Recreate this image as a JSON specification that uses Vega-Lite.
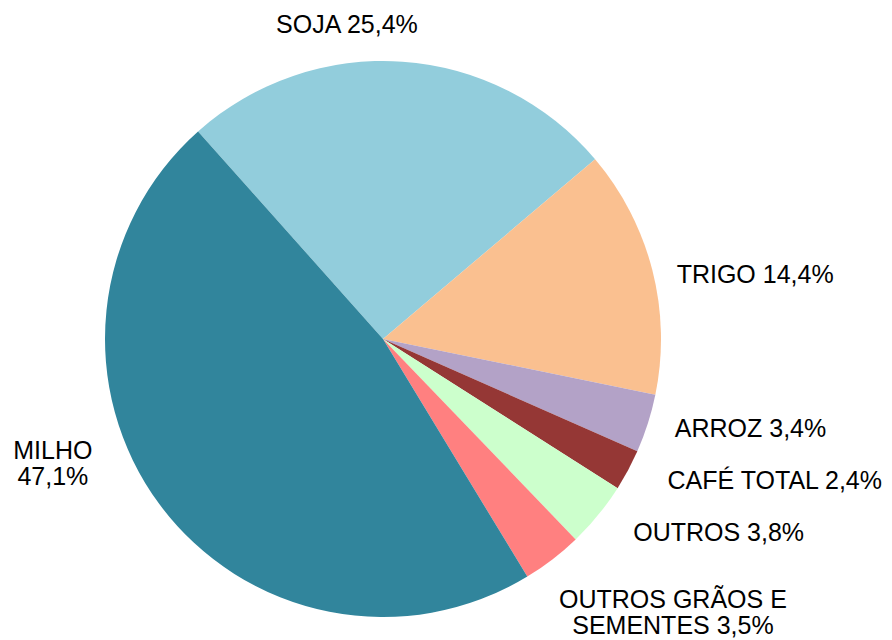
{
  "$schema": "https://vega.github.io/schema/vega-lite/v6.json",
  "width": 700,
  "height": 600,
  "autosize": "none",
  "padding": {"left": 33, "top": 39, "right": 159, "bottom": 1},
  "background": "white",
  "data": {
    "values": [
      {"ordem": 1, "cat": "SOJA", "pct": 25.4, "label": "SOJA 25,4%"},
      {"ordem": 2, "cat": "TRIGO", "pct": 14.4, "label": "TRIGO 14,4%"},
      {"ordem": 3, "cat": "ARROZ", "pct": 3.4, "label": "ARROZ 3,4%"},
      {"ordem": 4, "cat": "CAFÉ TOTAL", "pct": 2.4, "label": "CAFÉ TOTAL 2,4%"},
      {"ordem": 5, "cat": "OUTROS", "pct": 3.8, "label": "OUTROS 3,8%"},
      {"ordem": 6, "cat": "OUTROS GRÃOS E SEMENTES", "pct": 3.5, "label": "OUTROS GRÃOS E\nSEMENTES 3,5%"},
      {"ordem": 7, "cat": "MILHO", "pct": 47.1, "label": "MILHO\n47,1%"}
    ]
  },
  "encoding": {
    "theta": {"field": "pct", "type": "quantitative", "stack": true, "scale": {"domain": [0, 100], "range": [-0.728, 5.5552]}},
    "order": {"field": "ordem", "type": "quantitative"},
    "detail": {"field": "cat", "type": "nominal"}
  },
  "layer": [
    {
      "mark": {"type": "arc", "outerRadius": 278, "stroke": null},
      "encoding": {
        "color": {
          "field": "cat", "type": "nominal", "legend": null,
          "scale": {
            "domain": ["SOJA", "TRIGO", "ARROZ", "CAFÉ TOTAL", "OUTROS", "OUTROS GRÃOS E SEMENTES", "MILHO"],
            "range": ["#92CDDC", "#FAC090", "#B3A2C7", "#953735", "#CCFFCC", "#FF8080", "#31859C"]
          }
        }
      }
    },
    {
      "mark": {"type": "text", "radius": 300, "align": "center", "baseline": "middle", "dx": -57, "dy": -15, "font": "Liberation Sans", "fontSize": 25, "color": "#000000", "lineBreak": "\n", "lineHeight": 26},
      "encoding": {"text": {"condition": {"test": "datum.cat === 'SOJA'", "field": "label"}, "value": ""}}
    },
    {
      "mark": {"type": "text", "radius": 300, "align": "left", "baseline": "middle", "dx": 3, "dy": 10, "font": "Liberation Sans", "fontSize": 25, "color": "#000000", "lineBreak": "\n", "lineHeight": 26},
      "encoding": {"text": {"condition": {"test": "datum.cat === 'TRIGO'", "field": "label"}, "value": ""}}
    },
    {
      "mark": {"type": "text", "radius": 300, "align": "left", "baseline": "middle", "dx": 6, "dy": -1, "font": "Liberation Sans", "fontSize": 25, "color": "#000000", "lineBreak": "\n", "lineHeight": 26},
      "encoding": {"text": {"condition": {"test": "datum.cat === 'ARROZ'", "field": "label"}, "value": ""}}
    },
    {
      "mark": {"type": "text", "radius": 300, "align": "left", "baseline": "middle", "dx": 20, "dy": 1, "font": "Liberation Sans", "fontSize": 25, "color": "#000000", "lineBreak": "\n", "lineHeight": 26},
      "encoding": {"text": {"condition": {"test": "datum.cat === 'CAFÉ TOTAL'", "field": "label"}, "value": ""}}
    },
    {
      "mark": {"type": "text", "radius": 300, "align": "left", "baseline": "middle", "dx": 18, "dy": 4, "font": "Liberation Sans", "fontSize": 25, "color": "#000000", "lineBreak": "\n", "lineHeight": 26},
      "encoding": {"text": {"condition": {"test": "datum.cat === 'OUTROS'", "field": "label"}, "value": ""}}
    },
    {
      "mark": {"type": "text", "radius": 300, "align": "center", "baseline": "middle", "dx": 107, "dy": 23, "font": "Liberation Sans", "fontSize": 25, "color": "#000000", "lineBreak": "\n", "lineHeight": 26},
      "encoding": {"text": {"condition": {"test": "datum.cat === 'OUTROS GRÃOS E SEMENTES'", "field": "label"}, "value": ""}}
    },
    {
      "mark": {"type": "text", "radius": 300, "align": "center", "baseline": "middle", "dx": -89, "dy": -66, "font": "Liberation Sans", "fontSize": 25, "color": "#000000", "lineBreak": "\n", "lineHeight": 26},
      "encoding": {"text": {"condition": {"test": "datum.cat === 'MILHO'", "field": "label"}, "value": ""}}
    }
  ],
  "config": {"view": {"stroke": null}}
}
